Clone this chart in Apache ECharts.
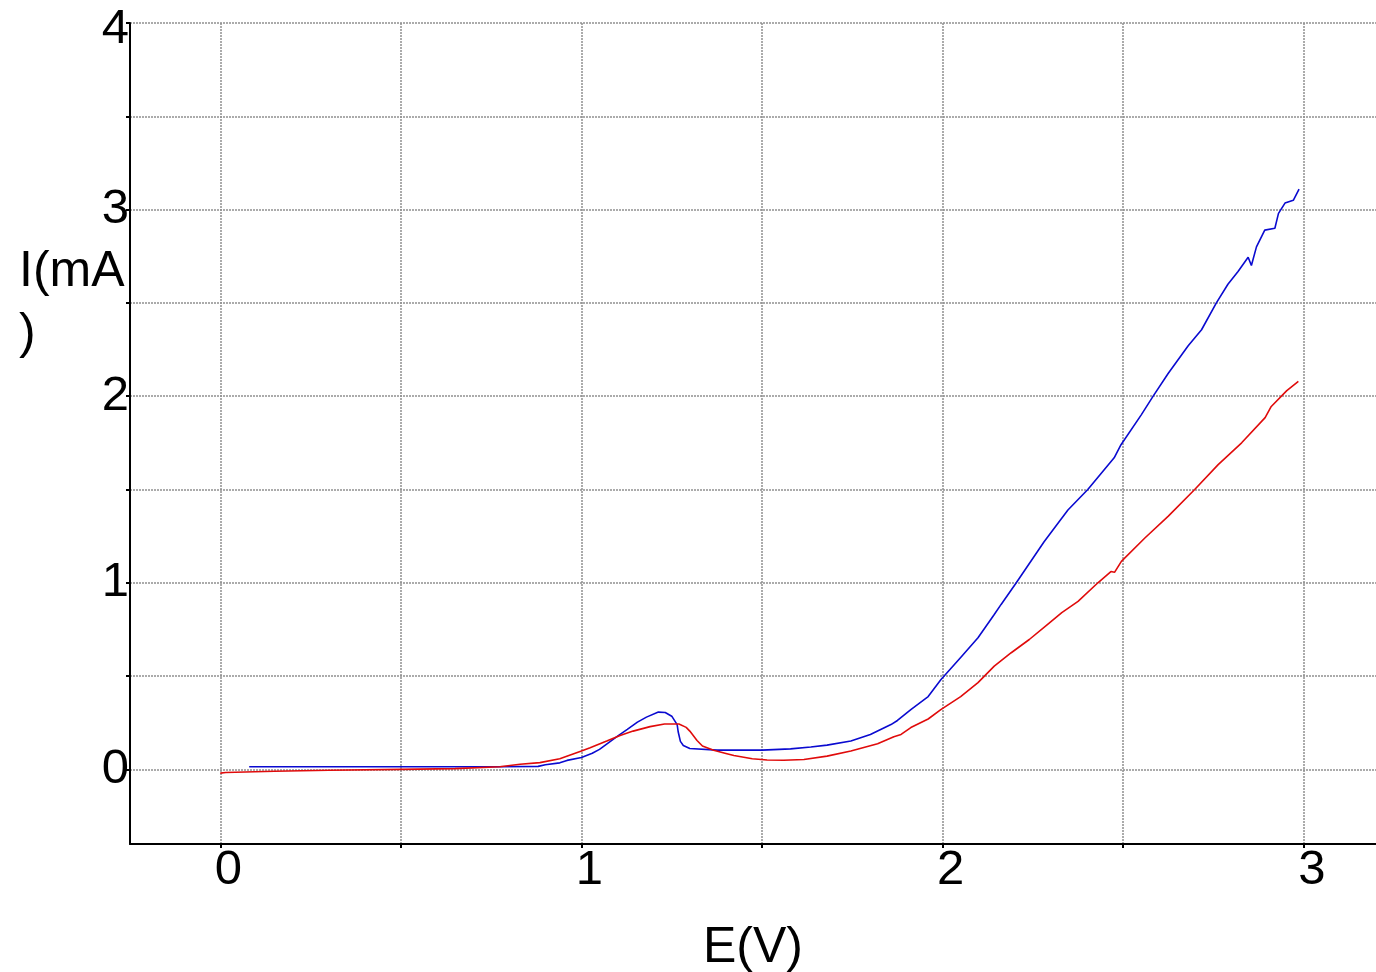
<!DOCTYPE html>
<html>
<head>
<meta charset="utf-8">
<script src="https://cdn.jsdelivr.net/npm/echarts@6/dist/echarts.min.js"></script>
<style>
html,body{margin:0;padding:0;background:#fff;}
#chart{width:1376px;height:972px;}
</style>
</head>
<body>
<div id="chart"></div>
<script>
// Blue curve: potential E (V) and current I (mA)
const blueE = [0.08, 0.30, 0.50, 0.77, 0.88, 0.90, 0.94, 0.96, 1.00, 1.03, 1.05, 1.10, 1.127, 1.155, 1.18, 1.213, 1.232, 1.25, 1.265, 1.268, 1.274, 1.282, 1.30, 1.376, 1.50, 1.579, 1.635, 1.68, 1.746, 1.80, 1.857, 1.875, 1.912, 1.96, 1.995, 2.05, 2.098, 2.143, 2.162, 2.204, 2.281, 2.347, 2.402, 2.475, 2.494, 2.55, 2.583, 2.624, 2.68, 2.717, 2.758, 2.79, 2.818, 2.846, 2.855, 2.869, 2.892, 2.92, 2.93, 2.948, 2.971, 2.987];
const blueI = [0.014, 0.014, 0.014, 0.014, 0.016, 0.025, 0.035, 0.048, 0.064, 0.086, 0.107, 0.178, 0.214, 0.253, 0.28, 0.307, 0.305, 0.285, 0.24, 0.20, 0.15, 0.128, 0.112, 0.103, 0.103, 0.11, 0.12, 0.13, 0.152, 0.187, 0.24, 0.262, 0.32, 0.39, 0.48, 0.60, 0.705, 0.83, 0.884, 1.0, 1.22, 1.39, 1.5, 1.67, 1.74, 1.9, 2.0, 2.12, 2.27, 2.356, 2.5, 2.6, 2.668, 2.745, 2.70, 2.8, 2.89, 2.9, 2.98, 3.035, 3.05, 3.11];
// Red curve
const redE = [0.00, 0.015, 0.15, 0.30, 0.50, 0.65, 0.774, 0.83, 0.885, 0.94, 1.00, 1.024, 1.07, 1.107, 1.143, 1.19, 1.23, 1.27, 1.29, 1.30, 1.32, 1.335, 1.366, 1.40, 1.422, 1.473, 1.514, 1.56, 1.616, 1.68, 1.746, 1.82, 1.865, 1.885, 1.912, 1.96, 1.995, 2.05, 2.098, 2.143, 2.19, 2.24, 2.29, 2.33, 2.375, 2.43, 2.466, 2.476, 2.495, 2.56, 2.625, 2.698, 2.763, 2.828, 2.893, 2.91, 2.953, 2.985];
const redI = [-0.020, -0.017, -0.010, -0.005, 0.000, 0.004, 0.014, 0.027, 0.036, 0.057, 0.098, 0.116, 0.152, 0.182, 0.205, 0.229, 0.243, 0.243, 0.225, 0.205, 0.155, 0.125, 0.102, 0.085, 0.074, 0.057, 0.050, 0.049, 0.053, 0.071, 0.098, 0.137, 0.175, 0.187, 0.224, 0.27, 0.32, 0.39, 0.465, 0.553, 0.625, 0.696, 0.776, 0.84, 0.90, 1.0, 1.06, 1.056, 1.115, 1.24, 1.357, 1.5, 1.633, 1.75, 1.885, 1.945, 2.03, 2.08];
// Axis ticks and labels
const xTicks = [0, 0.5, 1, 1.5, 2, 2.5, 3];
const xLabels = [0, 1, 2, 3];
const yTicks = [0, 0.5, 1, 1.5, 2, 2.5, 3, 3.5, 4];
const yLabels = [0, 1, 2, 3, 4];

const FONT = '"Liberation Sans", Arial, sans-serif';
const pairs = (xs, ys) => xs.map((x, i) => [x, ys[i]]);
const gridLine = { show: true, lineStyle: { color: '#909090', width: 1.5, type: [2, 1] } };

const chart = echarts.init(document.getElementById('chart'));
chart.setOption({
  animation: false,
  backgroundColor: '#ffffff',
  grid: { left: 130, right: 0, top: 23, bottom: 128, containLabel: false, outerBoundsMode: 'none' },
  graphic: [{
    type: 'text', left: 19, top: 241, silent: true,
    style: { text: 'I(mA\n)', font: '50px ' + FONT, fill: '#000', lineHeight: 62 }
  }],
  xAxis: {
    type: 'value', min: -0.25, max: 3.2,
    name: 'E(V)', nameLocation: 'middle', nameGap: 79,
    nameTextStyle: { fontFamily: FONT, fontSize: 50, color: '#000' },
    axisLine: { show: true, onZero: false, lineStyle: { color: '#000', width: 2 } },
    axisTick: { show: true, length: 4, customValues: xTicks, lineStyle: { color: '#000', width: 2 } },
    axisLabel: { customValues: xLabels, fontFamily: FONT, fontSize: 49, color: '#000', margin: 2, padding: [0, 0, 0, 16] },
    splitLine: gridLine
  },
  yAxis: {
    type: 'value', min: -0.4, max: 4,
    axisLine: { show: true, onZero: false, lineStyle: { color: '#000', width: 2 } },
    axisTick: { show: true, length: 4, customValues: yTicks, lineStyle: { color: '#000', width: 2 } },
    axisLabel: {
      customValues: yLabels, fontFamily: FONT, fontSize: 49, color: '#000', margin: 1,
      formatter: v => (v === 4 ? '{t|4}' : String(v)),
      rich: { t: { fontFamily: FONT, fontSize: 49, color: '#000', padding: [12, 0, 0, 0] } }
    },
    splitLine: gridLine
  },
  series: [
    { type: 'line', data: pairs(blueE, blueI), showSymbol: false, lineStyle: { color: '#0a0ad0', width: 1.6 }, z: 3 },
    { type: 'line', data: pairs(redE, redI), showSymbol: false, lineStyle: { color: '#e00b0b', width: 1.6 }, z: 4 }
  ]
});
</script>
</body>
</html>
